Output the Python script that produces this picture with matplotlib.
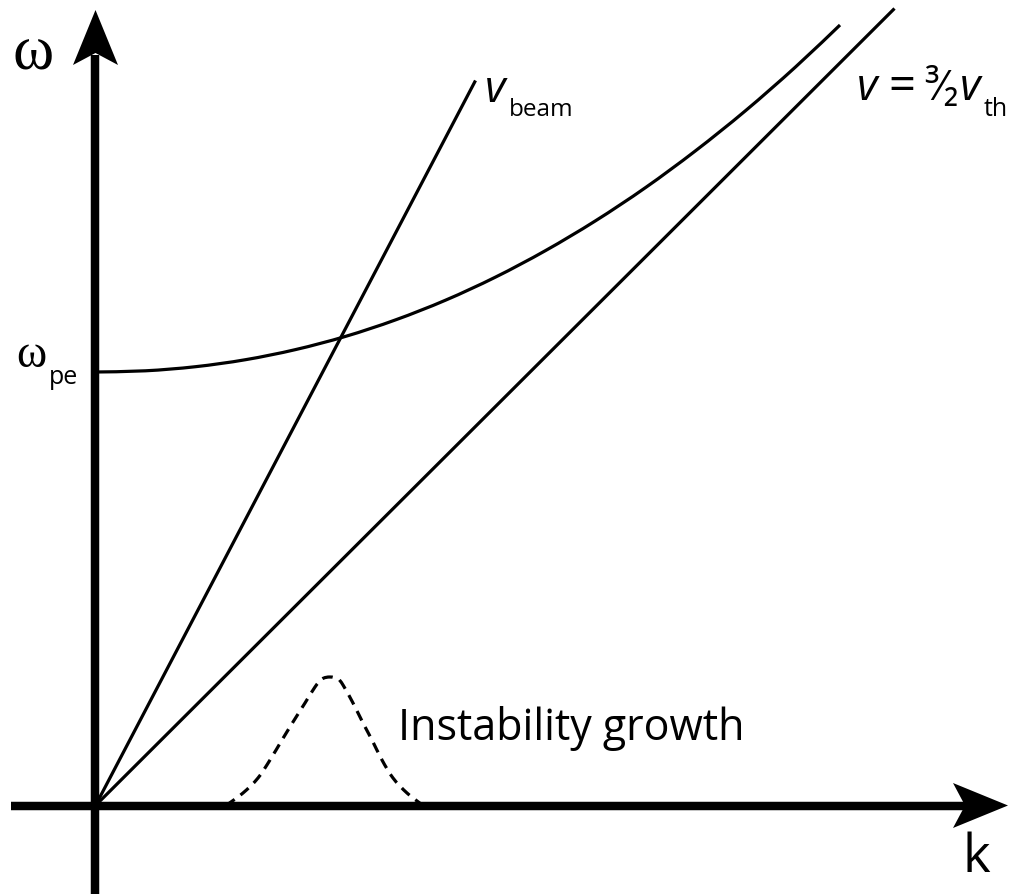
import numpy as np
import matplotlib
matplotlib.use("Agg")
import matplotlib.pyplot as plt
from matplotlib.path import Path
from matplotlib.patches import PathPatch

# ---- dispersion diagram data (k, omega in arbitrary units) ----
omega_pe = 4.335

beam_k = [0.0, 3.80]
beam_w = [0.0, 7.25]

thermal_k = [0.0, 7.99]
thermal_w = [0.0, 7.97]

# Langmuir (Bohm-Gross) branch
langmuir_k = [0.0, 0.5, 1.0, 1.5, 2.0, 2.5, 3.0, 3.5, 4.0, 4.5,
              5.0, 5.5, 6.0, 6.5, 7.0, 7.445]
langmuir_w = [4.335, 4.347, 4.388, 4.458, 4.559, 4.691, 4.856, 5.053, 5.284, 5.549,
              5.847, 6.179, 6.547, 6.948, 7.385, 7.805]

# growth-rate bump of the beam-plasma instability
growth_k = [1.305, 1.475, 1.625, 1.745, 1.865, 1.975, 2.095, 2.195, 2.265,
            2.345, 2.425, 2.475, 2.575, 2.675, 2.765, 2.865, 2.975, 3.115, 3.275]
growth_w = [0.0, 0.125, 0.275, 0.455, 0.655, 0.835, 1.025, 1.185, 1.265,
            1.285, 1.265, 1.205, 1.025, 0.825, 0.655, 0.455, 0.275, 0.125, 0.0]

W, H, DPI = 1009, 894, 100
fig = plt.figure(figsize=(W / DPI, H / DPI), dpi=DPI)
ax = fig.add_axes([0, 0, 1, 1])
ax.set_xlim(-0.955, 9.135)
ax.set_ylim(-0.885, 8.055)
ax.axis("off")

AX_LW = 6.1
LW = 2.3


def smooth_path(xs, ys):
    """Cubic Bezier path passing through every given point (Catmull-Rom)."""
    P = np.column_stack([xs, ys]).astype(float)
    n = len(P)
    verts = [P[0]]
    codes = [Path.MOVETO]
    for i in range(n - 1):
        p0 = P[i - 1] if i > 0 else P[i]
        p1, p2 = P[i], P[i + 1]
        p3 = P[i + 2] if i + 2 < n else P[i + 1]
        verts += [p1 + (p2 - p0) / 6.0, p2 - (p3 - p1) / 6.0, p2]
        codes += [Path.CURVE4] * 3
    return Path(verts, codes)


# axes with swept-back arrow heads
def arrow_head(tip_x, tip_y, dx, dy, length=0.55, half=0.225, notch=0.43):
    px_, py_ = -dy, dx
    pts = [(tip_x, tip_y),
           (tip_x - dx * length + px_ * half, tip_y - dy * length + py_ * half),
           (tip_x - dx * notch, tip_y - dy * notch),
           (tip_x - dx * length - px_ * half, tip_y - dy * length - py_ * half)]
    xs, ys = zip(*pts)
    ax.fill(xs, ys, color="black", lw=0, zorder=5)


ax.plot([-0.845, 8.70], [0, 0], color="black", lw=AX_LW, solid_capstyle="butt", zorder=4)
arrow_head(9.125, 0.0, 1, 0)
ax.plot([0, 0], [-0.95, 7.50], color="black", lw=AX_LW, solid_capstyle="butt", zorder=4)
arrow_head(0.0, 7.955, 0, 1)

# straight phase-velocity lines
ax.plot(beam_k, beam_w, color="black", lw=LW, solid_capstyle="butt")
ax.plot(thermal_k, thermal_w, color="black", lw=LW, solid_capstyle="butt")

# Langmuir branch and dashed growth bump
ax.add_patch(PathPatch(smooth_path(langmuir_k, langmuir_w), fill=False,
                       edgecolor="black", lw=LW, capstyle="butt"))
ax.add_patch(PathPatch(smooth_path(growth_k, growth_w), fill=False,
                       edgecolor="black", lw=LW, linestyle=(0, (3.3, 2.3)),
                       capstyle="butt"))

SANS = ["Open Sans", "DejaVu Sans"]
SERIF = ["Liberation Serif", "DejaVu Serif"]


def px(x, y):
    return (x - 95.5) / 100.0, (805.5 - y) / 100.0


# axis labels
ax.text(*px(33, 70), "\u03c9", family=SERIF, fontsize=45, ha="center", va="baseline")
ax.text(*px(976, 872), "k", family=SANS, fontsize=38, ha="center", va="baseline")

# omega_pe tick label
ax.text(*px(16, 367), "\u03c9", family=SERIF, fontsize=33, ha="left", va="baseline")
ax.text(*px(49, 384), "pe", family=SANS, fontsize=18, ha="left", va="baseline")

# v_beam label
ax.text(*px(485, 102), "v", family=SANS, style="italic", fontsize=32, ha="left", va="baseline")
ax.text(*px(509, 116), "beam", family=SANS, fontsize=17.5, ha="left", va="baseline")

# v = 3/2 v_th label
ax.text(*px(857, 100), "v", family=SANS, style="italic", fontsize=32, ha="left", va="baseline")
ax.text(*px(888, 100), "=", family=SANS, fontsize=34, ha="left", va="baseline")
ax.text(*px(924, 100), "\u00b3\u2044\u2082", family=SANS, fontsize=30, ha="left", va="baseline")
ax.text(*px(960, 100), "v", family=SANS, style="italic", fontsize=32, ha="left", va="baseline")
ax.text(*px(984, 116), "th", family=SANS, fontsize=18, ha="left", va="baseline")

# instability annotation
ax.text(*px(398, 740), "Instability growth", family=SANS, fontsize=31, ha="left", va="baseline")

fig.savefig("out.png", dpi=DPI)
